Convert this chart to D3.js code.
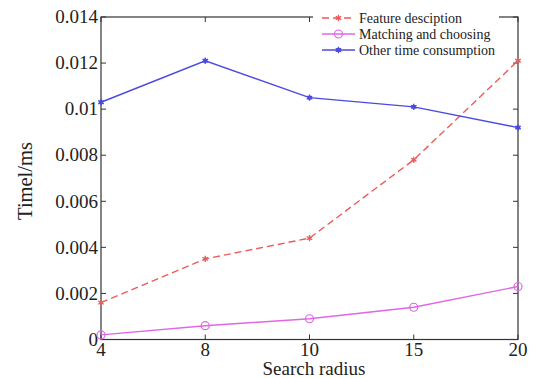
<!DOCTYPE html>
<html><head><meta charset="utf-8">
<script src="https://cdn.jsdelivr.net/npm/d3@7"></script>
<style>body{margin:0;background:#fff}svg{display:block}</style>
</head><body><svg id="c" width="539" height="378"></svg>
<script>
const categories = ["4","8","10","15","20"];
const featureDesc = [0.0016, 0.0035, 0.0044, 0.0078, 0.0121];
const matching = [0.0002, 0.0006, 0.0009, 0.0014, 0.0023];
const otherTime = [0.0103, 0.0121, 0.0105, 0.0101, 0.0092];
const yTicks = [0, 0.002, 0.004, 0.006, 0.008, 0.01, 0.012, 0.014];
const yTickLabels = ["0","0.002","0.004","0.006","0.008","0.01","0.012","0.014"];
const seriesNames = ["Feature desciption","Matching and choosing","Other time consumption"];

const svg = d3.select("#c");
const L=101, R=518, T=17, B=339.5;
const x = d3.scalePoint().domain(categories).range([L,R]);
const y = d3.scaleLinear().domain([0,0.014]).range([B,T]);
const font = "Liberation Serif, Times New Roman, serif";
const axisColor = "#333";

svg.append("rect").attr("x",L).attr("y",T).attr("width",R-L).attr("height",B-T)
  .attr("fill","none").attr("stroke",axisColor).attr("stroke-width",1.2);

const tl = 5;
yTicks.forEach((v,i)=>{
  svg.append("line").attr("x1",L).attr("x2",L+tl).attr("y1",y(v)).attr("y2",y(v)).attr("stroke",axisColor);
  svg.append("line").attr("x1",R).attr("x2",R-tl).attr("y1",y(v)).attr("y2",y(v)).attr("stroke",axisColor);
  svg.append("text").attr("x",L-3).attr("y",y(v)).attr("dy","0.33em").attr("text-anchor","end")
    .attr("font-family",font).attr("font-size",19).attr("fill","#222").text(yTickLabels[i]);
});
categories.forEach(c=>{
  svg.append("line").attr("x1",x(c)).attr("x2",x(c)).attr("y1",B).attr("y2",B-tl).attr("stroke",axisColor);
  svg.append("line").attr("x1",x(c)).attr("x2",x(c)).attr("y1",T).attr("y2",T+tl).attr("stroke",axisColor);
  svg.append("text").attr("x",x(c)).attr("y",356).attr("text-anchor","middle")
    .attr("font-family",font).attr("font-size",19).attr("fill","#222").text(c);
});

svg.append("text").attr("x",314).attr("y",375).attr("text-anchor","middle")
  .attr("font-family",font).attr("font-size",19).attr("fill","#222").text("Search radius");
svg.append("text").attr("transform",`translate(32,181) rotate(-90)`).attr("text-anchor","middle")
  .attr("font-family",font).attr("font-size",20.5).attr("fill","#222").text("Timel/ms");

const series = [
  {name:seriesNames[0], values:featureDesc, color:"#ee5a5a", dash:"7,4", marker:"star"},
  {name:seriesNames[1], values:matching, color:"#e066e6", dash:null, marker:"circle"},
  {name:seriesNames[2], values:otherTime, color:"#4a4ae0", dash:null, marker:"dotstar"}
];
const line = d3.line().x((d,i)=>x(categories[i])).y(d=>y(d));

function drawMarker(g, cx, cy, s){
  if(s.marker==="circle"){
    g.append("circle").attr("cx",cx).attr("cy",cy).attr("r",4).attr("fill","none").attr("stroke",s.color).attr("stroke-width",1.2);
  } else {
    g.append("path").attr("d",d3.symbol().type(d3.symbolAsterisk).size(28)()).attr("transform",`translate(${cx},${cy})`)
      .attr("fill","none").attr("stroke",s.color).attr("stroke-width",1.3);
    g.append("circle").attr("cx",cx).attr("cy",cy).attr("r",s.marker==="dotstar"?2.2:1.6).attr("fill",s.color);
  }
}

series.forEach(s=>{
  const g = svg.append("g");
  g.append("path").datum(s.values).attr("d",line).attr("fill","none").attr("stroke",s.color)
    .attr("stroke-width",1.4).attr("stroke-dasharray",s.dash);
  s.values.forEach((v,i)=>drawMarker(g, x(categories[i]), y(v), s));
});

const lg = svg.append("g");
lg.append("rect").attr("x",313).attr("y",4).attr("width",186).attr("height",54).attr("fill","#fff");
series.forEach((s,i)=>{
  const yy = 18 + i*16;
  lg.append("line").attr("x1",322).attr("x2",355).attr("y1",yy).attr("y2",yy).attr("stroke",s.color)
    .attr("stroke-width",1.4).attr("stroke-dasharray",s.dash);
  drawMarker(lg, 338.5, yy, s);
  lg.append("text").attr("x",359).attr("y",yy).attr("dy","0.35em").attr("font-family",font)
    .attr("font-size",14).attr("fill","#222").text(s.name);
});
</script></body></html>
